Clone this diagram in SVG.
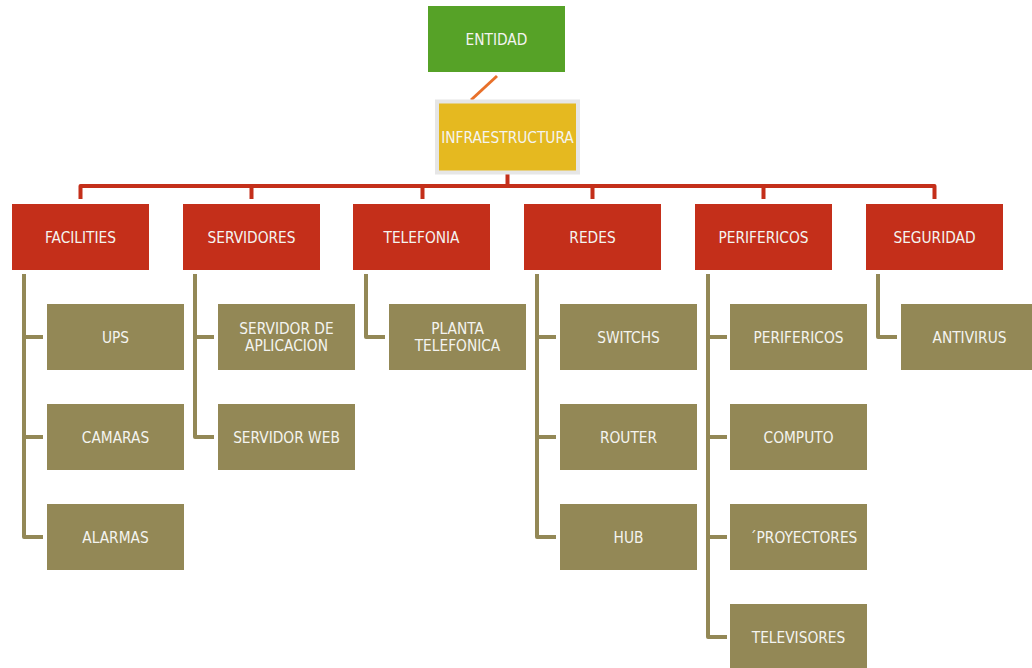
<svg xmlns="http://www.w3.org/2000/svg" width="1032" height="668" viewBox="0 0 1032 668">
<style>
.t{font-family:"DejaVu Sans Condensed","DejaVu Sans",sans-serif;font-size:15.3px;fill:#F4F4F0;text-anchor:middle}
.red{fill:#C42F1A}
.olive{fill:#938856}
.lr{fill:none;stroke:#C42F1A;stroke-width:4;stroke-linejoin:round}
.lo{fill:none;stroke:#938856;stroke-width:4;stroke-linejoin:round}
</style>
<rect width="1032" height="668" fill="#FFFFFF"/>
<g id="connectors">
<line x1="497" y1="76" x2="471" y2="100" stroke="#E8702A" stroke-width="3"/>
<path class="lr" d="M507.5 173 V186"/>
<path class="lr" d="M80.5 199 V186 H934.5 V199"/>
<path class="lr" d="M251.5 186 V199 M422.5 186 V199 M592.5 186 V199 M763.5 186 V199"/>
<path class="lo" d="M24 274 V537 H43 M24 337 H43 M24 437 H43"/>
<path class="lo" d="M195 274 V437 H214 M195 337 H214"/>
<path class="lo" d="M366 274 V337 H385"/>
<path class="lo" d="M537 274 V537 H556 M537 337 H556 M537 437 H556"/>
<path class="lo" d="M708 274 V637 H727 M708 337 H727 M708 437 H727 M708 537 H727"/>
<path class="lo" d="M878 274 V337 H897"/>
</g>
<g id="entidad"><rect x="428" y="6" width="137" height="66" fill="#56A227"/><text class="t" x="496.5" y="44.5">ENTIDAD</text></g>
<g id="infraestructura"><rect x="437" y="101.5" width="141" height="71" fill="#E5B920" stroke="#E6E6E6" stroke-width="4"/><text class="t" x="507.5" y="142.5">INFRAESTRUCTURA</text></g>
<g id="facilities"><rect class="red" x="12" y="204" width="137" height="66"/><text class="t" x="80.5" y="242.5">FACILITIES</text></g>
<g id="servidores"><rect class="red" x="183" y="204" width="137" height="66"/><text class="t" x="251.5" y="242.5">SERVIDORES</text></g>
<g id="telefonia"><rect class="red" x="353" y="204" width="137" height="66"/><text class="t" x="421.5" y="242.5">TELEFONIA</text></g>
<g id="redes"><rect class="red" x="524" y="204" width="137" height="66"/><text class="t" x="592.5" y="242.5">REDES</text></g>
<g id="perifericos"><rect class="red" x="695" y="204" width="137" height="66"/><text class="t" x="763.5" y="242.5">PERIFERICOS</text></g>
<g id="seguridad"><rect class="red" x="866" y="204" width="137" height="66"/><text class="t" x="934.5" y="242.5">SEGURIDAD</text></g>
<g id="ups"><rect class="olive" x="47" y="304" width="137" height="66"/><text class="t" x="115.5" y="342.5">UPS</text></g>
<g id="camaras"><rect class="olive" x="47" y="404" width="137" height="66"/><text class="t" x="115.5" y="442.5">CAMARAS</text></g>
<g id="alarmas"><rect class="olive" x="47" y="504" width="137" height="66"/><text class="t" x="115.5" y="542.5">ALARMAS</text></g>
<g id="servidor-aplicacion"><rect class="olive" x="218" y="304" width="137" height="66"/><text class="t" x="286.5" y="333.5">SERVIDOR DE</text><text class="t" x="286.5" y="350.5">APLICACION</text></g>
<g id="servidor-web"><rect class="olive" x="218" y="404" width="137" height="66"/><text class="t" x="286.5" y="442.5">SERVIDOR WEB</text></g>
<g id="planta"><rect class="olive" x="389" y="304" width="137" height="66"/><text class="t" x="457.5" y="333.5">PLANTA</text><text class="t" x="457.5" y="350.5">TELEFONICA</text></g>
<g id="switchs"><rect class="olive" x="560" y="304" width="137" height="66"/><text class="t" x="628.5" y="342.5">SWITCHS</text></g>
<g id="router"><rect class="olive" x="560" y="404" width="137" height="66"/><text class="t" x="628.5" y="442.5">ROUTER</text></g>
<g id="hub"><rect class="olive" x="560" y="504" width="137" height="66"/><text class="t" x="628.5" y="542.5">HUB</text></g>
<g id="perifericos-child"><rect class="olive" x="730" y="304" width="137" height="66"/><text class="t" x="798.5" y="342.5">PERIFERICOS</text></g>
<g id="computo"><rect class="olive" x="730" y="404" width="137" height="66"/><text class="t" x="798.5" y="442.5">COMPUTO</text></g>
<g id="proyectores"><rect class="olive" x="730" y="504" width="137" height="66"/><text class="t" x="803.5" y="542.5">´PROYECTORES</text></g>
<g id="televisores"><rect class="olive" x="730" y="604" width="137" height="66"/><text class="t" x="798.5" y="642.5">TELEVISORES</text></g>
<g id="antivirus"><rect class="olive" x="901" y="304" width="137" height="66"/><text class="t" x="969.5" y="342.5">ANTIVIRUS</text></g>
</svg>
